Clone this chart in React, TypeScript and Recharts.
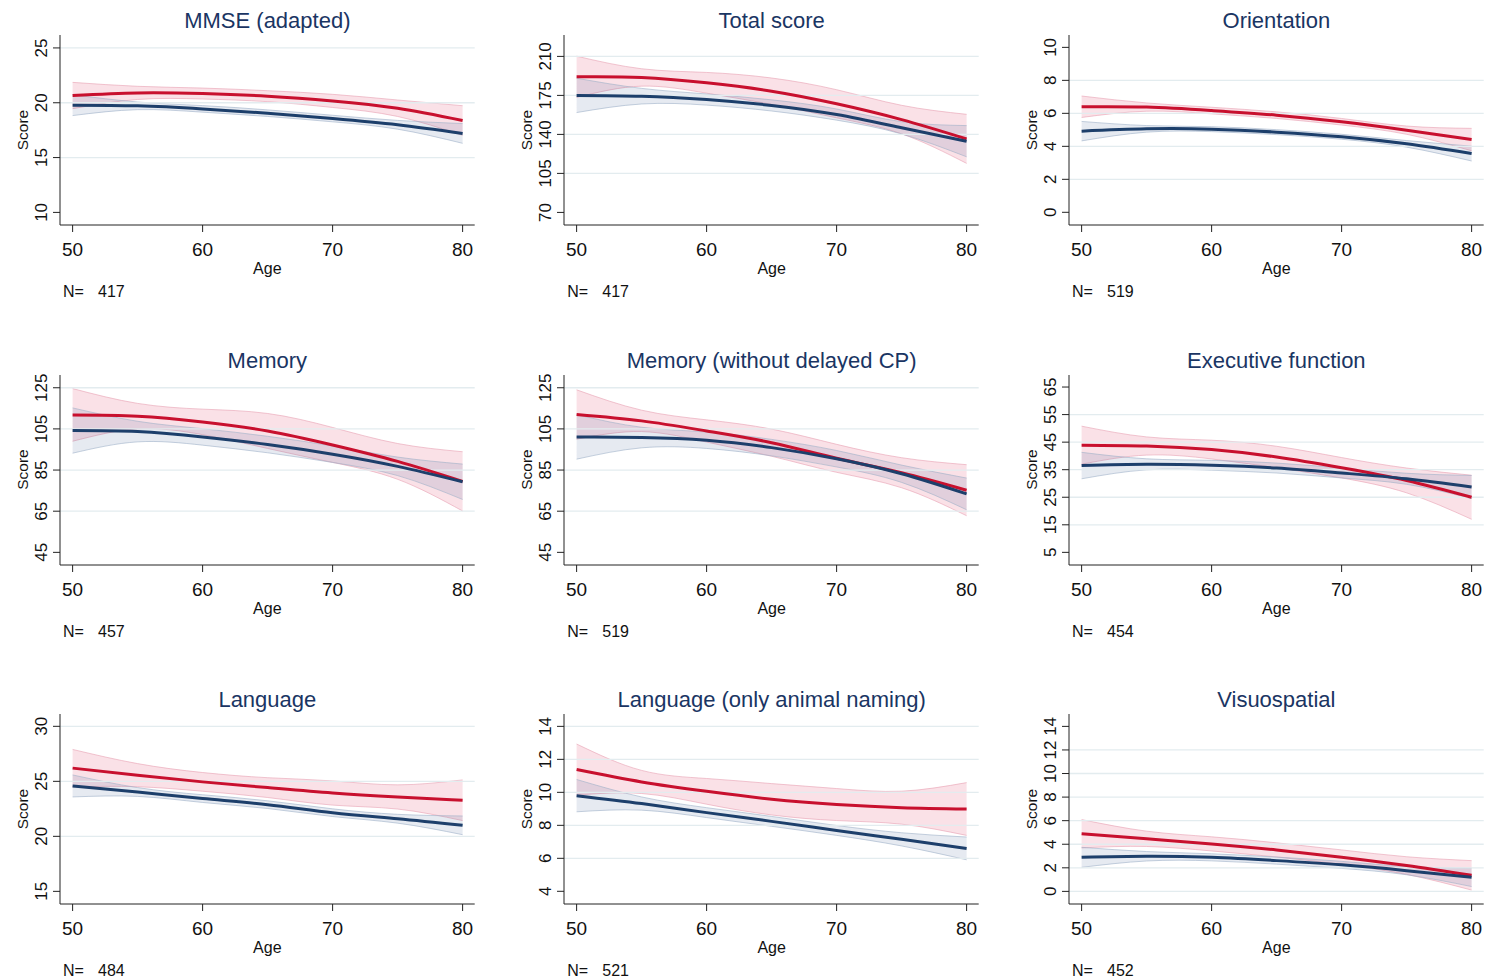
import React from 'react';
import { ComposedChart, Area, Line, XAxis, YAxis, ReferenceLine } from 'recharts';

// ages at which the fitted curves were read
const ages = [50, 55, 60, 65, 70, 75, 80];
const xTicks = [50, 60, 70, 80];

// MMSE (adapted)
const mmseRed = [20.66, 20.9, 20.84, 20.6, 20.17, 19.5, 18.38];
const mmseRedCI = [1.2, 0.6, 0.5, 0.5, 0.6, 0.75, 1.35];
const mmseBlue = [19.78, 19.72, 19.44, 19.05, 18.56, 17.99, 17.2];
const mmseBlueCI = [0.95, 0.35, 0.3, 0.3, 0.3, 0.4, 0.9];

// Total score
const totalRed = [191.7, 191.1, 186.3, 178.8, 167.5, 153.3, 136];
const totalRedCI = [18.5, 7.8, 9.3, 11.8, 12.6, 12.8, 22];
const totalBlue = [175, 174.3, 171.3, 166, 157.8, 145.9, 133.9];
const totalBlueCI = [15.4, 7, 5, 5, 5, 5.5, 14];

// Orientation
const orientRed = [6.4, 6.38, 6.17, 5.89, 5.49, 4.98, 4.41];
const orientRedCI = [0.65, 0.25, 0.2, 0.2, 0.2, 0.25, 0.68];
const orientBlue = [4.92, 5.06, 5.04, 4.86, 4.58, 4.15, 3.56];
const orientBlueCI = [0.59, 0.2, 0.15, 0.15, 0.15, 0.2, 0.45];

// Memory
const memRed = [111.8, 111.2, 108.4, 104, 97.2, 89.2, 79.5];
const memRedCI = [12.8, 6.2, 6.2, 8.5, 8.5, 8.7, 14.4];
const memBlue = [104.2, 103.7, 101.1, 97.4, 92.7, 86.8, 79.3];
const memBlueCI = [11, 5, 4, 4, 4, 4.5, 8.6];

// Memory (without delayed CP)
const mem2Red = [112, 108.9, 104, 98.3, 90.7, 83.7, 75.2];
const mem2RedCI = [12, 5.2, 5.4, 6.6, 6.8, 7.3, 12.4];
const mem2Blue = [101.1, 100.8, 99.5, 95.9, 90.5, 83.2, 73.4];
const mem2BlueCI = [10.8, 5, 4, 4, 4, 4.2, 7.7];

// Executive function
const execRed = [43.9, 43.6, 42.3, 39.6, 35.7, 31.1, 25.0];
const execRedCI = [6.9, 3.3, 3.4, 3.9, 3.7, 4.5, 8];
const execBlue = [36.5, 36.95, 36.6, 35.6, 33.8, 31.7, 28.7];
const execBlueCI = [4.8, 2, 1.8, 1.8, 1.8, 2, 4.2];

// Language
const langRed = [26.2, 25.56, 24.95, 24.43, 23.94, 23.58, 23.28];
const langRedCI = [1.7, 1.05, 0.85, 0.9, 1.1, 1.1, 1.85];
const langBlue = [24.58, 24.03, 23.43, 22.88, 22.15, 21.6, 21.0];
const langBlueCI = [1.0, 0.4, 0.35, 0.35, 0.35, 0.4, 0.85];

// Language (only animal naming)
const animalRed = [11.38, 10.63, 10.06, 9.58, 9.26, 9.07, 8.99];
const animalRedCI = [1.55, 0.7, 0.78, 0.95, 0.97, 1.0, 1.6];
const animalBlue = [9.8, 9.32, 8.77, 8.24, 7.69, 7.15, 6.6];
const animalBlueCI = [0.98, 0.4, 0.3, 0.3, 0.3, 0.4, 0.69];

// Visuospatial
const visuoRed = [4.89, 4.46, 4.03, 3.52, 2.9, 2.19, 1.36];
const visuoRedCI = [1.2, 0.65, 0.6, 0.6, 0.62, 0.75, 1.25];
const visuoBlue = [2.89, 2.98, 2.89, 2.61, 2.25, 1.76, 1.19];
const visuoBlueCI = [0.85, 0.4, 0.3, 0.3, 0.3, 0.35, 0.78];

const RED = '#c8102e';
const BLUE = '#1d3f6b';
const TITLE = '#1a3563';
const FONT = '"Liberation Sans", Arial, sans-serif';

interface PanelDef {
  title: string;
  n: number;
  domain: [number, number];
  ticks: number[];
  grid: number[];
  red: number[];
  redCI: number[];
  blue: number[];
  blueCI: number[];
}

const panels: PanelDef[] = [
  { title: 'MMSE (adapted)', n: 417, domain: [8.85, 26.18], ticks: [10, 15, 20, 25], grid: [15, 20, 25], red: mmseRed, redCI: mmseRedCI, blue: mmseBlue, blueCI: mmseBlueCI },
  { title: 'Total score', n: 417, domain: [58.7, 229.2], ticks: [70, 105, 140, 175, 210], grid: [105, 140, 175, 210], red: totalRed, redCI: totalRedCI, blue: totalBlue, blueCI: totalBlueCI },
  { title: 'Orientation', n: 519, domain: [-0.77, 10.75], ticks: [0, 2, 4, 6, 8, 10], grid: [2, 4, 6, 8], red: orientRed, redCI: orientRedCI, blue: orientBlue, blueCI: orientBlueCI },
  { title: 'Memory', n: 457, domain: [38.85, 131.2], ticks: [45, 65, 85, 105, 125], grid: [65, 85, 105, 125], red: memRed, redCI: memRedCI, blue: memBlue, blueCI: memBlueCI },
  { title: 'Memory (without delayed CP)', n: 519, domain: [38.85, 131.2], ticks: [45, 65, 85, 105, 125], grid: [65, 85, 105, 125], red: mem2Red, redCI: mem2RedCI, blue: mem2Blue, blueCI: mem2BlueCI },
  { title: 'Executive function', n: 454, domain: [0.41, 69.37], ticks: [5, 15, 25, 35, 45, 55, 65], grid: [15, 25, 35, 45, 55], red: execRed, redCI: execRedCI, blue: execBlue, blueCI: execBlueCI },
  { title: 'Language', n: 484, domain: [13.85, 31.12], ticks: [15, 20, 25, 30], grid: [20, 25, 30], red: langRed, redCI: langRedCI, blue: langBlue, blueCI: langBlueCI },
  { title: 'Language (only animal naming)', n: 521, domain: [3.23, 14.75], ticks: [4, 6, 8, 10, 12, 14], grid: [6, 8, 10, 12, 14], red: animalRed, redCI: animalRedCI, blue: animalBlue, blueCI: animalBlueCI },
  { title: 'Visuospatial', n: 452, domain: [-1.07, 15.05], ticks: [0, 2, 4, 6, 8, 10, 12, 14], grid: [0, 2, 4, 6, 8, 10, 12], red: visuoRed, redCI: visuoRedCI, blue: visuoBlue, blueCI: visuoBlueCI },
];

const colX = [60, 564.3, 1069]; // y-axis line of each column
const rowY = [35, 374.5, 714]; // top of plot region of each row
const PLOT_W = 414.7;
const PLOT_H = 190;

const YTick = (props: any) => {
  const { x, y, payload } = props;
  return (
    <text
      x={x}
      y={y}
      transform={`rotate(-90, ${x}, ${y})`}
      textAnchor="middle"
      fontSize={17}
      fontFamily={FONT}
      fill="#111"
    >
      {payload.value}
    </text>
  );
};

function Panel({ p, ax, at }: { p: PanelDef; ax: number; at: number }) {
  const data = ages.map((age, i) => ({
    age,
    red: p.red[i],
    redBand: [p.red[i] - p.redCI[i], p.red[i] + p.redCI[i]],
    blue: p.blue[i],
    blueBand: [p.blue[i] - p.blueCI[i], p.blue[i] + p.blueCI[i]],
  }));
  return (
    <div style={{ position: 'absolute', left: ax - 60, top: at - 35 }}>
      <ComposedChart
        width={500}
        height={300}
        data={data}
        margin={{ top: 35, right: 500 - 60 - PLOT_W, left: 0, bottom: 300 - 35 - PLOT_H - 40 }}
      >
        <XAxis
          dataKey="age"
          type="number"
          domain={[49.03, 80.93]}
          ticks={xTicks}
          allowDataOverflow
          height={40}
          tickSize={7}
          tickMargin={11}
          stroke="#222"
          tick={{ fontSize: 19, fill: '#111', fontFamily: FONT }}
        />
        <YAxis
          type="number"
          domain={p.domain}
          ticks={p.ticks}
          allowDataOverflow
          width={60}
          tickSize={7}
          tickMargin={6}
          stroke="#222"
          tick={<YTick />}
        />
        {p.grid.map((g) => (
          <ReferenceLine key={g} y={g} stroke="#e3ecef" strokeWidth={1.3} />
        ))}
        <Area
          type="natural"
          dataKey="redBand"
          stroke="#e8a0b2"
          strokeOpacity={0.6}
          strokeWidth={1}
          fill="#e0456b"
          fillOpacity={0.16}
          isAnimationActive={false}
        />
        <Area
          type="natural"
          dataKey="blueBand"
          stroke="#9fb0c8"
          strokeOpacity={0.6}
          strokeWidth={1}
          fill="#3d5f8f"
          fillOpacity={0.13}
          isAnimationActive={false}
        />
        <Line type="natural" dataKey="red" stroke={RED} strokeWidth={3} dot={false} isAnimationActive={false} />
        <Line type="natural" dataKey="blue" stroke={BLUE} strokeWidth={3} dot={false} isAnimationActive={false} />
      </ComposedChart>
    </div>
  );
}

export default function App() {
  return (
    <div style={{ position: 'absolute', left: 0, top: 0, width: 1490, height: 979, background: '#fff', overflow: 'hidden' }}>
      {panels.map((p, i) => (
        <Panel key={p.title} p={p} ax={colX[i % 3]} at={rowY[Math.floor(i / 3)]} />
      ))}
      <svg width={1490} height={979} style={{ position: 'absolute', left: 0, top: 0, pointerEvents: 'none' }}>
        {panels.map((p, i) => {
          const ax = colX[i % 3];
          const at = rowY[Math.floor(i / 3)];
          const cx = ax + PLOT_W / 2;
          return (
            <g key={p.title} fontFamily={FONT}>
              <text x={cx} y={at - 7} textAnchor="middle" fontSize={22} fill={TITLE}>
                {p.title}
              </text>
              <text x={cx} y={at + 239} textAnchor="middle" fontSize={16} fill="#111">
                Age
              </text>
              <text
                x={ax - 32}
                y={at + PLOT_H / 2}
                transform={`rotate(-90, ${ax - 32}, ${at + PLOT_H / 2})`}
                textAnchor="middle"
                fontSize={15.5}
                fill="#111"
              >
                Score
              </text>
              <text x={ax + 3} y={at + 262} fontSize={16} fill="#111">
                N=
              </text>
              <text x={ax + 38} y={at + 262} fontSize={16} fill="#111">
                {p.n}
              </text>
            </g>
          );
        })}
      </svg>
    </div>
  );
}
